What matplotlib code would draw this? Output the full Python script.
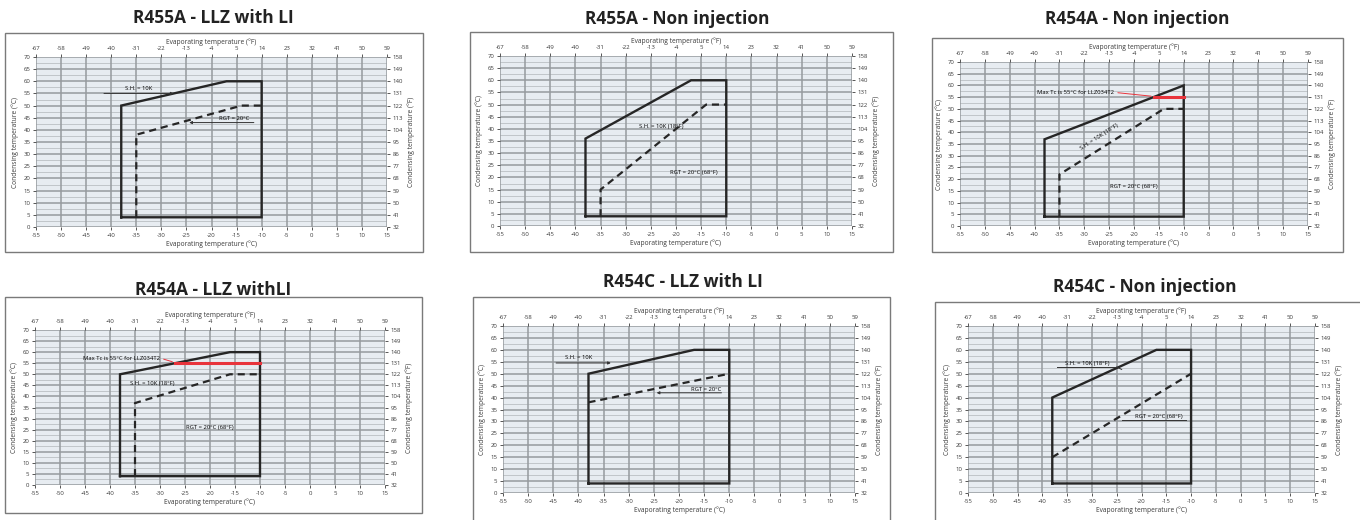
import matplotlib
matplotlib.use("Agg")
import matplotlib.pyplot as plt
from matplotlib.patches import Rectangle

plt.rcParams['font.family'] = ['Open Sans', 'DejaVu Sans']

# ---------------- data ----------------
titles = ["R455A - LLZ with LI", "R455A - Non injection", "R454A - Non injection",
          "R454A - LLZ withLI", "R454C - LLZ with LI", "R454C - Non injection"]

x_ticks_c = [-55, -50, -45, -40, -35, -30, -25, -20, -15, -10, -5, 0, 5, 10, 15]
x_ticks_f = [-67, -58, -49, -40, -31, -22, -13, -4, 5, 14, 23, 32, 41, 50, 59]
y_ticks_c = [0, 5, 10, 15, 20, 25, 30, 35, 40, 45, 50, 55, 60, 65, 70]
y_ticks_f = [32, 41, 50, 59, 68, 77, 86, 95, 104, 113, 122, 131, 140, 149, 158]

# envelopes (evaporating °C, condensing °C)
env1_x = [-38, -38, -17, -10, -10, -38]
env1_y = [4, 50, 60, 60, 4, 4]
rgt1_x = [-35, -35, -14, -10]
rgt1_y = [4, 38, 50, 50]

env2_x = [-38, -38, -17, -10, -10, -38]
env2_y = [4, 36, 60, 60, 4, 4]
rgt2_x = [-35, -35, -14, -10]
rgt2_y = [4, 15, 50, 50]

env3_x = [-38, -38, -10, -10, -38]
env3_y = [4, 37, 60, 4, 4]
rgt3_x = [-35, -35, -14, -10]
rgt3_y = [4, 22, 50, 50]
max3_x = [-16, -10]
max3_y = [55, 55]

env4_x = [-38, -38, -16, -10, -10, -38]
env4_y = [4, 50, 60, 60, 4, 4]
rgt4_x = [-35, -35, -16, -10]
rgt4_y = [4, 37, 50, 50]
max4_x = [-27, -10]
max4_y = [55, 55]

env5_x = [-38, -38, -17, -10, -10, -38]
env5_y = [4, 50, 60, 60, 4, 4]
rgt5_x = [-38, -10]
rgt5_y = [38, 50]

env6_x = [-38, -38, -17, -10, -10, -38]
env6_y = [4, 40, 60, 60, 4, 4]
rgt6_x = [-38, -10]
rgt6_y = [15, 50]

envs = [(env1_x, env1_y), (env2_x, env2_y), (env3_x, env3_y),
        (env4_x, env4_y), (env5_x, env5_y), (env6_x, env6_y)]
rgts = [(rgt1_x, rgt1_y), (rgt2_x, rgt2_y), (rgt3_x, rgt3_y),
        (rgt4_x, rgt4_y), (rgt5_x, rgt5_y), (rgt6_x, rgt6_y)]
maxes = [None, None, (max3_x, max3_y), (max4_x, max4_y), None, None]

# ---------------- layout (pixels) ----------------
W, H = 1360, 520
fig = plt.figure(figsize=(W / 100, H / 100), dpi=100)
fig.patch.set_facecolor("white")

# plot-area pixel boxes: (left, right, top, bottom)
plot_boxes = [(36, 387, 57, 227), (500, 852, 56, 226), (960, 1308, 62, 226),
              (35, 385, 330, 485), (503, 855, 326, 493), (968, 1315, 326, 493)]
frame_boxes = [(5, 423, 33, 252), (470, 893, 32, 252), (932, 1343, 38, 252),
               (5, 422, 297, 513), (473, 890, 297, 530), (935, 1370, 302, 530)]
title_pos = [(213, 18), (677, 19), (1137, 19), (213, 290), (683, 282), (1145, 287)]

TICK_FS = 4.3
LAB_FS = 4.8
tick_col = "#3a3a3a"
grid_col = "#969a9e"
bg_col = "#e7ecf1"


def add_axes_px(l, r, t, b):
    return fig.add_axes([l / W, 1 - b / H, (r - l) / W, (b - t) / H])


for i in range(6):
    fl, fr, ft, fb = frame_boxes[i]
    fig.add_artist(Rectangle((fl / W, 1 - fb / H), (fr - fl) / W, (fb - ft) / H,
                             transform=fig.transFigure, fill=False,
                             edgecolor="#7a7a7a", linewidth=1.0))
    tx, ty = title_pos[i]
    fig.text(tx / W, 1 - ty / H, titles[i], ha="center", va="center",
             fontsize=12.5, fontweight="bold", color="#222222")

    l, r, t, b = plot_boxes[i]
    ax = add_axes_px(l, r, t, b)
    ax.set_facecolor(bg_col)
    ax.set_xlim(-55, 15)
    ax.set_ylim(0, 70)
    for s in ax.spines.values():
        s.set_visible(False)
    # grid
    for yv in [v + 2.5 for v in y_ticks_c[:-1]]:
        ax.axhline(yv, color="#c0c5c9", lw=0.7, zorder=1)
    for yv in y_ticks_c:
        ax.axhline(yv, color=grid_col, lw=1.1, zorder=1)
    for xv in x_ticks_c:
        ax.axvline(xv, color=grid_col, lw=1.1, zorder=1)

    ax.set_xticks(x_ticks_c)
    ax.set_xticklabels([str(v) for v in x_ticks_c])
    ax.set_yticks(y_ticks_c)
    ax.set_yticklabels([str(v) for v in y_ticks_c])
    ax.tick_params(labelsize=TICK_FS, colors=tick_col, length=2, width=0.6, pad=2)
    ax.set_xlabel("Evaporating temperature (°C)", fontsize=LAB_FS, color=tick_col, labelpad=2)
    ax.set_ylabel("Condensing temperature (°C)", fontsize=LAB_FS, color=tick_col, labelpad=3)

    axt = ax.twiny()
    axt.set_xlim(-55, 15)
    axt.set_xticks(x_ticks_c)
    axt.set_xticklabels([str(v) for v in x_ticks_f])
    axt.tick_params(labelsize=TICK_FS, colors=tick_col, length=2, width=0.6, pad=2)
    axt.set_xlabel("Evaporating temperature (°F)", fontsize=LAB_FS, color=tick_col, labelpad=2)
    for s in axt.spines.values():
        s.set_visible(False)

    axr = ax.twinx()
    axr.set_ylim(0, 70)
    axr.set_yticks(y_ticks_c)
    axr.set_yticklabels([str(v) for v in y_ticks_f])
    axr.tick_params(labelsize=TICK_FS, colors=tick_col, length=2, width=0.6, pad=2)
    axr.set_ylabel("Condensing temperature (°F)", fontsize=LAB_FS, color=tick_col, labelpad=3)
    for s in axr.spines.values():
        s.set_visible(False)

    ex, ey = envs[i]
    ax.plot(ex, ey, color="#262626", lw=1.7, zorder=4, solid_joinstyle="miter")
    rx, ry = rgts[i]
    ax.plot(rx, ry, color="#262626", lw=1.6, ls=(0, (3.2, 2.2)), zorder=4)
    if maxes[i] is not None:
        mx, my = maxes[i]
        ax.plot(mx, my, color="#e8343c", lw=2.2, zorder=5)

ANN_FS = 4.2
axes_main = [a for a in fig.axes if a.get_xlabel() == "Evaporating temperature (°C)"]
a1, a2, a3, a4, a5, a6 = axes_main

# panel 1 annotations
a1.text(-34.5, 55.8, "S.H. = 10K", fontsize=ANN_FS, ha="center", va="bottom", zorder=6)
a1.annotate("", xy=(-27, 55), xytext=(-42, 55),
            arrowprops=dict(arrowstyle="-|>", lw=0.7, color="#333", mutation_scale=4), zorder=6)
a1.text(-15.5, 43.5, "RGT = 20°C", fontsize=ANN_FS, ha="center", va="bottom", zorder=6)
a1.annotate("", xy=(-25, 43), xytext=(-11, 43),
            arrowprops=dict(arrowstyle="-|>", lw=0.7, color="#333", mutation_scale=4), zorder=6)

# panel 2
a2.text(-23, 41, "S.H. = 10K (18°F)", fontsize=ANN_FS, ha="center", va="center", zorder=6)
a2.text(-16.5, 22, "RGT = 20°C (68°F)", fontsize=ANN_FS, ha="center", va="center", zorder=6)

# panel 3
a3.text(-24, 57, "Max Tc is 55°C for LLZ034T2", fontsize=ANN_FS, ha="right", va="center", zorder=6)
a3.annotate("", xy=(-16, 55.3), xytext=(-23.8, 57),
            arrowprops=dict(arrowstyle="-", lw=0.7, color="#e8343c"), zorder=6)
a3.text(-27, 38, "S.H. = 10K (18°F)", fontsize=ANN_FS, ha="center", va="center",
        rotation=33, zorder=6)
a3.text(-20, 17, "RGT = 20°C (68°F)", fontsize=ANN_FS, ha="center", va="center", zorder=6)

# panel 4
a4.text(-30, 57.2, "Max Tc is 55°C for LLZ034T2", fontsize=ANN_FS, ha="right", va="center", zorder=6)
a4.annotate("", xy=(-27, 55.3), xytext=(-29.8, 57.2),
            arrowprops=dict(arrowstyle="-", lw=0.7, color="#e8343c"), zorder=6)
a4.text(-31.5, 46, "S.H. = 10K (18°F)", fontsize=ANN_FS, ha="center", va="center", zorder=6)
a4.text(-20, 26, "RGT = 20°C (68°F)", fontsize=ANN_FS, ha="center", va="center", zorder=6)

# panel 5
a5.text(-40, 55.8, "S.H. = 10K", fontsize=ANN_FS, ha="center", va="bottom", zorder=6)
a5.annotate("", xy=(-33, 54.5), xytext=(-45, 54.5),
            arrowprops=dict(arrowstyle="-|>", lw=0.7, color="#333", mutation_scale=4), zorder=6)
a5.text(-14.5, 42.5, "RGT = 20°C", fontsize=ANN_FS, ha="center", va="bottom", zorder=6)
a5.annotate("", xy=(-25, 42), xytext=(-11, 42),
            arrowprops=dict(arrowstyle="-|>", lw=0.7, color="#333", mutation_scale=4), zorder=6)

# panel 6
a6.text(-31, 53.3, "S.H. = 10K (18°F)", fontsize=ANN_FS, ha="center", va="bottom", zorder=6)
a6.plot([-37, -25], [52.8, 52.8], color="#333", lw=0.7, zorder=6)
a6.plot([-25, -24], [52.8, 51.8], color="#333", lw=0.7, zorder=6)
a6.text(-16.5, 31.2, "RGT = 20°C (68°F)", fontsize=ANN_FS, ha="center", va="bottom", zorder=6)
a6.plot([-24, -11], [30.6, 30.6], color="#333", lw=0.7, zorder=6)

fig.savefig("out.png", dpi=100, facecolor="white")
